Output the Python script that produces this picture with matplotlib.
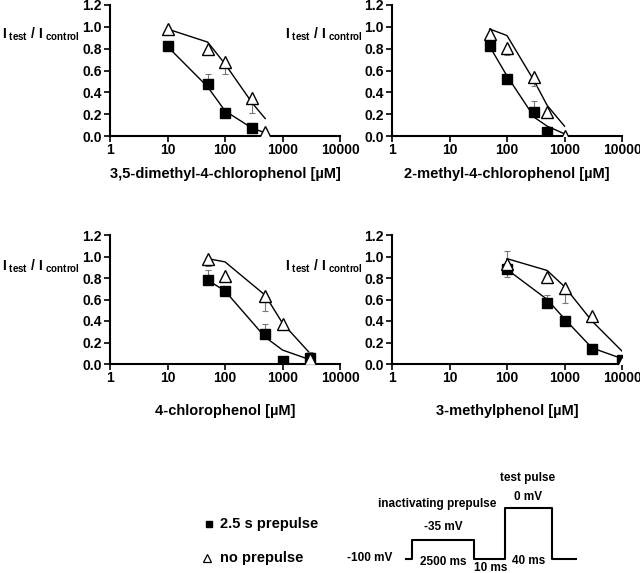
import matplotlib
matplotlib.use("Agg")
import matplotlib.pyplot as plt

plt.rcParams['font.family'] = ['Liberation Sans', 'DejaVu Sans']
plt.rcParams['font.weight'] = 'bold'
plt.rcParams['mathtext.fontset'] = 'custom'
plt.rcParams['mathtext.rm'] = 'Liberation Sans:bold'
plt.rcParams['mathtext.it'] = 'Liberation Sans:bold'
plt.rcParams['mathtext.bf'] = 'Liberation Sans:bold'

# ---- data ----
titles = ["3,5-dimethyl-4-chlorophenol [µM]", "2-methyl-4-chlorophenol [µM]",
          "4-chlorophenol [µM]", "3-methylphenol [µM]"]

# 2.5 s prepulse (filled squares)
sq_x = [[10, 50, 100, 300], [50, 100, 300, 500],
        [50, 100, 500, 1000, 3000], [100, 500, 1000, 3000, 10000]]
sq_y = [[0.82, 0.48, 0.21, 0.07], [0.82, 0.52, 0.22, 0.04],
        [0.78, 0.68, 0.28, 0.03, 0.06], [0.88, 0.57, 0.40, 0.14, 0.04]]
sq_lo = [[0, 0, 0, 0], [0, 0, 0, 0],
         [0, 0, 0, 0, 0], [0.07, 0, 0, 0, 0]]
sq_hi = [[0.04, 0.09, 0.05, 0.04], [0, 0.03, 0.10, 0],
         [0.09, 0.04, 0.09, 0, 0], [0, 0.07, 0, 0, 0]]

# no prepulse (open triangles)
tri_x = [[10, 50, 100, 300, 500], [50, 100, 300, 500, 1000],
         [50, 100, 500, 1000, 3000], [100, 500, 1000, 3000, 10000]]
tri_y = [[0.98, 0.80, 0.68, 0.35, 0.04], [0.93, 0.81, 0.54, 0.22, 0.0],
         [0.98, 0.82, 0.63, 0.37, 0.05], [0.93, 0.81, 0.71, 0.45, 0.02]]
tri_lo = [[0, 0, 0.11, 0.14, 0], [0.07, 0.07, 0.08, 0, 0],
          [0.07, 0, 0.14, 0, 0], [0, 0, 0.14, 0, 0]]
tri_hi = [[0, 0, 0, 0, 0], [0, 0, 0, 0, 0],
          [0, 0, 0, 0, 0.06], [0.12, 0, 0, 0, 0]]

# fitted curves
fit_x = [[10, 50, 100, 300, 500], [50, 100, 300, 500, 1000],
         [50, 100, 500, 1000, 3000], [100, 500, 1000, 3000, 10000]]
fit_sq = [[0.82, 0.45, 0.23, 0.07, 0.03], [0.82, 0.55, 0.17, 0.09, 0.02],
          [0.78, 0.68, 0.25, 0.13, 0.04], [0.88, 0.60, 0.42, 0.15, 0.05]]
fit_tri = [[0.98, 0.86, 0.66, 0.30, 0.16], [0.98, 0.92, 0.50, 0.28, 0.09],
           [0.98, 0.95, 0.64, 0.38, 0.10], [0.98, 0.87, 0.72, 0.40, 0.12]]

xticks = [1, 10, 100, 1000, 10000]
xticklabels = ["1", "10", "100", "1000", "10000"]
yticks = [0.0, 0.2, 0.4, 0.6, 0.8, 1.0, 1.2]

W, H = 640, 573
fig = plt.figure(figsize=(6.4, 5.73), dpi=100)

# overlay for labels, legend and voltage protocol (pixel coordinates)
ov = fig.add_axes([0, 0, 1, 1])
ov.set_xlim(0, W)
ov.set_ylim(H, 0)
ov.axis('off')
ov.set_zorder(10)

# axes boxes in pixels: left, top, right, bottom
boxes = [(110, 5, 340, 136), (392, 5, 622, 136),
         (110, 235, 340, 364), (392, 235, 622, 364)]
title_y = [174, 174, 411, 411]
ylab_y = [34, 34, 266, 266]
ylab_x = [2, 285, 2, 285]

for i, (l, t, r, b) in enumerate(boxes):
    ax = fig.add_axes([l / W, 1 - b / H, (r - l) / W, (b - t) / H])
    ax.patch.set_alpha(0)
    ax.set_xscale('log')
    ax.set_xlim(1, 10000)
    ax.set_ylim(0, 1.2)
    ax.plot(fit_x[i], fit_sq[i], color='black', lw=1.0, zorder=2)
    ax.plot(fit_x[i], fit_tri[i], color='black', lw=1.0, zorder=2)
    ax.errorbar(sq_x[i], sq_y[i], yerr=[sq_lo[i], sq_hi[i]], fmt='none',
                ecolor='#777777', elinewidth=0.8, capsize=2, capthick=0.8, zorder=3)
    ax.errorbar(tri_x[i], tri_y[i], yerr=[tri_lo[i], tri_hi[i]], fmt='none',
                ecolor='#777777', elinewidth=0.8, capsize=2, capthick=0.8, zorder=3)
    ax.plot(sq_x[i], sq_y[i], 's', color='black', ms=6.5, ls='none', zorder=4)
    ax.plot(tri_x[i], tri_y[i], '^', mfc='white', mec='black', mew=1.0,
            ms=8, ls='none', zorder=5)
    ax.spines['top'].set_visible(False)
    ax.spines['right'].set_visible(False)
    for s in ('left', 'bottom'):
        ax.spines[s].set_linewidth(1.5)
    ax.set_xticks(xticks)
    ax.set_xticklabels(xticklabels)
    ax.minorticks_off()
    ax.set_yticks(yticks)
    ax.set_yticklabels(["%.1f" % v for v in yticks])
    ax.tick_params(direction='out', length=4, width=1.2, labelsize=10, pad=2)
    ax.tick_params(axis='x', pad=1)
    for lab in ax.get_xticklabels() + ax.get_yticklabels():
        lab.set_fontweight('bold')
    ov.text((l + r) / 2, title_y[i], titles[i], fontsize=10.5, fontweight='bold',
            ha='center', va='center')
    ov.text(ylab_x[i], ylab_y[i],
            r'$\mathrm{I}_{\mathrm{\ test}}\mathrm{\ /\ I}_{\mathrm{\ control}}$',
            fontsize=10, ha='left', va='center')

ov.plot([209], [524], 's', color='black', ms=5)
ov.text(220, 524, "2.5 s prepulse", fontsize=10.5, fontweight='bold', va='center')
ov.plot([207], [558], '^', mfc='white', mec='black', mew=0.9, ms=5.5)
ov.text(220, 558, "no prepulse", fontsize=10.5, fontweight='bold', va='center')

prot_x = [406, 412, 412, 474, 474, 505, 505, 552, 552, 576]
prot_y = [559, 559, 540, 540, 559, 559, 508, 508, 559, 559]
ov.plot(prot_x, prot_y, color='black', lw=1.5)

lab_kw = dict(fontsize=8.5, fontweight='bold', ha='center', va='center')
ov.text(370, 558, "-100 mV", **lab_kw)
ov.text(443, 562, "2500 ms", **lab_kw)
ov.text(491, 568, "10 ms", **lab_kw)
ov.text(529, 561, "40 ms", **lab_kw)
ov.text(443, 527, "-35 mV", **lab_kw)
ov.text(437, 504, "inactivating prepulse", **lab_kw)
ov.text(528, 497, "0 mV", **lab_kw)
ov.text(528, 478, "test pulse", **lab_kw)

fig.savefig("out.png", dpi=100)
